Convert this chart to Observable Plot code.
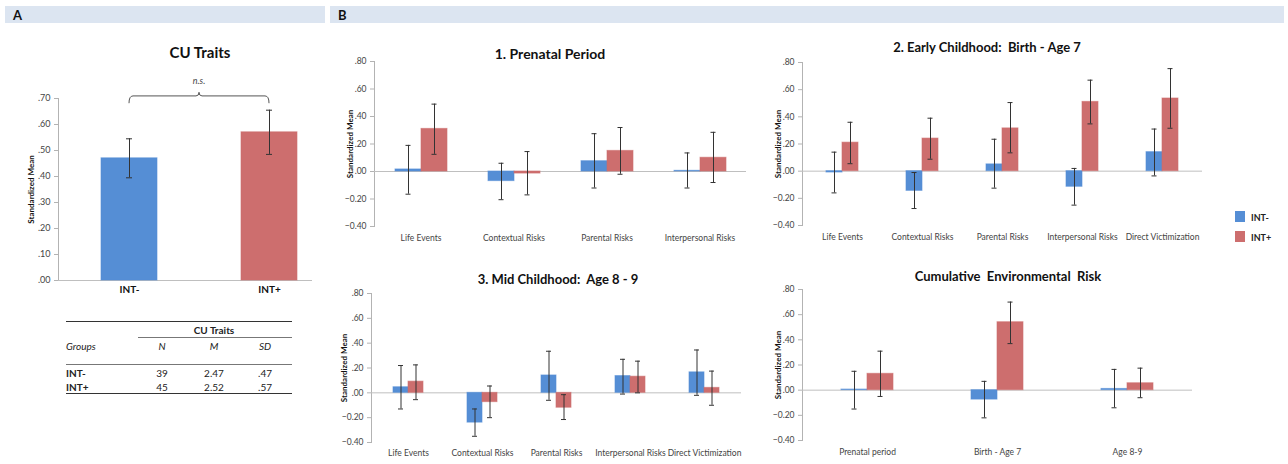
<!DOCTYPE html>
<html><head><meta charset="utf-8">
<script src="https://cdn.jsdelivr.net/npm/d3@7"></script>
<script src="https://cdn.jsdelivr.net/npm/@observablehq/plot@0.6"></script>
<style>
body{margin:0;background:#fff;font-family:Lato,sans-serif;}
#root{position:relative;width:1288px;height:464px;overflow:hidden;background:#fff;}
.abs{position:absolute;}
.strip{position:absolute;background:#dce5f1;height:17px;top:6px;}
.strip span{position:absolute;left:8px;top:1px;font-weight:bold;font-size:13px;color:#111;}
.title{position:absolute;font-weight:bold;color:#111;white-space:pre;transform:translate(-50%,-50%);line-height:1;}
.t{position:absolute;font-size:10px;color:#222;line-height:1;transform:translate(0,-50%);white-space:pre;}
.c{transform:translate(-50%,-50%);}
.hl{position:absolute;height:0;}
svg [aria-label="y-axis"] > text, svg [aria-label="y-axis label"] text {font-weight:bold;font-size:8px;fill:#111;}
</style></head>
<body><div id="root"></div>
<script>
// ---------- data ----------
const groups = ["INT-", "INT+"];
const colors = ["#558ed5", "#cd6e6e"];

// Panel A: CU traits
const cuMean = [0.47, 0.57];
const cuLow  = [0.395, 0.485];
const cuHigh = [0.545, 0.655];
const cuTicks = [0, 0.1, 0.2, 0.3, 0.4, 0.5, 0.6, 0.7];
const tableN  = ["39", "45"];
const tableM  = ["2.47", "2.52"];
const tableSD = [".47", ".57"];

const bTicks = [-0.4, -0.2, 0, 0.2, 0.4, 0.6, 0.8];

// B1 Prenatal period
const p1Cats = ["Life Events", "Contextual Risks", "Parental Risks", "Interpersonal Risks"];
const p1Neg = [0.015, -0.07, 0.075, 0.005];
const p1NegLo = [-0.165, -0.205, -0.12, -0.12];
const p1NegHi = [0.19, 0.06, 0.275, 0.135];
const p1Pos = [0.31, -0.015, 0.15, 0.10];
const p1PosLo = [0.125, -0.17, -0.02, -0.08];
const p1PosHi = [0.49, 0.145, 0.32, 0.285];

// B2 Early childhood
const p2Cats = ["Life Events", "Contextual Risks", "Parental Risks", "Interpersonal Risks", "Direct Victimization"];
const p2Neg = [-0.01, -0.145, 0.05, -0.115, 0.14];
const p2NegLo = [-0.16, -0.275, -0.125, -0.25, -0.035];
const p2NegHi = [0.14, -0.01, 0.235, 0.02, 0.31];
const p2Pos = [0.21, 0.24, 0.315, 0.51, 0.535];
const p2PosLo = [0.055, 0.088, 0.135, 0.348, 0.316];
const p2PosHi = [0.36, 0.39, 0.505, 0.67, 0.755];

// B3 Mid childhood
const p3Cats = ["Life Events", "Contextual Risks", "Parental Risks", "Interpersonal Risks", "Direct Victimization"];
const p3Neg = [0.045, -0.24, 0.14, 0.135, 0.165];
const p3NegLo = [-0.13, -0.35, -0.06, -0.01, -0.02];
const p3NegHi = [0.22, -0.13, 0.335, 0.27, 0.345];
const p3Pos = [0.09, -0.075, -0.12, 0.13, 0.04];
const p3PosLo = [-0.055, -0.20, -0.215, 0.0, -0.10];
const p3PosHi = [0.225, 0.055, -0.015, 0.255, 0.175];

// B4 Cumulative
const p4Cats = ["Prenatal period", "Birth - Age 7", "Age 8-9"];
const p4Neg = [0.005, -0.075, 0.01];
const p4NegLo = [-0.15, -0.22, -0.14];
const p4NegHi = [0.15, 0.07, 0.165];
const p4Pos = [0.13, 0.54, 0.055];
const p4PosLo = [-0.05, 0.37, -0.06];
const p4PosHi = [0.31, 0.70, 0.175];

// ---------- helpers ----------
const root = document.getElementById("root");
const fmt = d => d3.format(".2f")(d).replace(/^(-?)0\./, "$1.");
function el(cls, css, html) {
  const e = document.createElement("div");
  e.className = cls; Object.assign(e.style, css); if (html != null) e.innerHTML = html;
  root.appendChild(e); return e;
}
function place(node, left, top) {
  node.style.position = "absolute"; node.style.left = left + "px"; node.style.top = top + "px";
  root.appendChild(node);
}
function rowsOf(cats, neg, negLo, negHi, pos, posLo, posHi) {
  const r = [];
  cats.forEach((c, i) => {
    r.push({category: c, group: groups[0], value: neg[i], lo: negLo[i], hi: negHi[i]});
    r.push({category: c, group: groups[1], value: pos[i], lo: posLo[i], hi: posHi[i]});
  });
  return r;
}
function yAxis(ticks, offset) {
  return [
    Plot.axisY({ticks, tickFormat: fmt, tickSize: 4, tickPadding: 4,
      stroke: "#b3b3b3", fill: "#444",
      label: "Standardized Mean", labelAnchor: "center", labelOffset: offset, labelArrow: "none"}),
    Plot.frame({anchor: "left", stroke: "#b3b3b3", facetAnchor: "left"})
  ];
}

// ---------- header strips ----------
el("strip", {left: "5px", width: "320px"}, "<span>A</span>");
el("strip", {left: "330px", width: "954px"}, "<span>B</span>");

// ---------- Panel A ----------
const aRows = groups.map((g, i) => ({group: g, value: cuMean[i], lo: cuLow[i], hi: cuHigh[i]}));
const chartA = Plot.plot({
  width: 330, height: 250,
  marginLeft: 58, marginRight: 18, marginTop: 38, marginBottom: 30,
  style: {fontFamily: "Lato, sans-serif", fontSize: "9px", color: "#444", background: "transparent", overflow: "visible"},
  x: {domain: groups, paddingInner: 0.6, paddingOuter: 0.207, align: 0.741, axis: null},
  y: {domain: [0, 0.7]},
  color: {domain: groups, range: colors},
  marks: [
    yAxis(cuTicks, 30),
    Plot.ruleY([0], {stroke: "#bfbfbf"}),
    Plot.barY(aRows, {x: "group", y: "value", fill: "group", stroke: "group", strokeOpacity: 0.6}),
    Plot.ruleX(aRows, {x: "group", y1: "lo", y2: "hi", stroke: "#333", strokeWidth: 1}),
    Plot.tickY(aRows, {x: "group", y: "lo", stroke: "#333", insetLeft: 25, insetRight: 25}),
    Plot.tickY(aRows, {x: "group", y: "hi", stroke: "#333", insetLeft: 25, insetRight: 25}),
    Plot.text(groups, {x: d => d, frameAnchor: "bottom", dy: 12, fontWeight: "bold", fontSize: 10, fill: "#111"})
  ]
});
place(chartA, 0, 60);
// n.s. bracket, positioned with the chart's own scales
{
  const xs = chartA.scale("x"), ys = chartA.scale("y");
  const x1 = xs.apply("INT-") + xs.bandwidth / 2, x2 = xs.apply("INT+") + xs.bandwidth / 2;
  const xm = (x1 + x2) / 2, yt = ys.apply(0.708), yl = ys.apply(0.68), ytip = ys.apply(0.722);
  const svg = d3.select(chartA);
  svg.append("path")
    .attr("d", `M${x1},${yl} Q${x1},${yt} ${x1 + 4},${yt} L${xm - 3},${yt} Q${xm},${yt} ${xm},${ytip} Q${xm},${yt} ${xm + 3},${yt} L${x2 - 4},${yt} Q${x2},${yt} ${x2},${yl}`)
    .attr("fill", "none").attr("stroke", "#555").attr("stroke-width", 1);
  svg.append("text").attr("x", xm).attr("y", ys.apply(0.752)).attr("text-anchor", "middle")
    .attr("font-style", "italic").attr("font-size", 9).attr("fill", "#444").text("n.s.");
}
el("title", {left: "200px", top: "52px", fontSize: "15px"}, "CU Traits");

// table
el("hl", {left: "66px", top: "321px", width: "226px", borderTop: "1.5px solid #333"});
el("t c", {left: "214px", top: "330px", fontWeight: "bold"}, "CU Traits");
el("hl", {left: "138px", top: "337px", width: "154px", borderTop: "1px solid #777"});
el("t", {left: "66px", top: "346px", fontStyle: "italic"}, "Groups");
el("t c", {left: "162px", top: "346px", fontStyle: "italic"}, "N");
el("t c", {left: "214px", top: "346px", fontStyle: "italic"}, "M");
el("t c", {left: "265px", top: "346px", fontStyle: "italic"}, "SD");
el("hl", {left: "66px", top: "364px", width: "226px", borderTop: "1px solid #777"});
groups.forEach((g, i) => {
  const y = 373 + i * 14;
  el("t", {left: "66px", top: y + "px", fontWeight: "bold"}, g);
  el("t c", {left: "162px", top: y + "px"}, tableN[i]);
  el("t c", {left: "214px", top: y + "px"}, tableM[i]);
  el("t c", {left: "265px", top: y + "px"}, tableSD[i]);
});
el("hl", {left: "66px", top: "393px", width: "226px", borderTop: "1.5px solid #333"});

// ---------- B panels ----------
function panel(o) {
  const rows = rowsOf(o.cats, ...o.vals);
  const chart = Plot.plot({
    width: o.width, height: o.height,
    marginLeft: o.ml, marginRight: o.mr, marginTop: o.mt, marginBottom: o.mb,
    style: {fontFamily: "Lato, sans-serif", fontSize: "8.5px", color: "#444", background: "transparent", overflow: "visible"},
    facet: {data: rows, x: "category"},
    fx: {domain: o.cats, padding: 0, label: null, axis: "bottom", tickSize: 0, tickPadding: o.tp},
    x: {domain: groups, paddingInner: 0, paddingOuter: o.outer, axis: null},
    y: {domain: [-0.4, 0.8]},
    color: {domain: groups, range: colors},
    marks: [
      yAxis(bTicks, o.lo),
      Plot.ruleY([0], {stroke: "#bfbfbf"}),
      Plot.barY(rows, {x: "group", y: "value", fill: "group", stroke: "group", strokeOpacity: 0.6}),
      Plot.ruleX(rows, {x: "group", y1: "lo", y2: "hi", stroke: "#333"}),
      Plot.tickY(rows, {x: "group", y: "lo", stroke: "#333", insetLeft: o.cap, insetRight: o.cap}),
      Plot.tickY(rows, {x: "group", y: "hi", stroke: "#333", insetLeft: o.cap, insetRight: o.cap})
    ]
  });
  place(chart, o.left, o.top);
  el("title", {left: o.tx + "px", top: o.ty + "px", fontSize: o.fs + "px"}, o.title);
  return chart;
}

panel({title: "1. Prenatal Period", tx: 550, ty: 54, fs: 14,
  cats: p1Cats, vals: [p1Neg, p1NegLo, p1NegHi, p1Pos, p1PosLo, p1PosHi],
  left: 330, top: 40, width: 430, height: 210, ml: 42, mr: 13, mt: 21, mb: 24, tp: 8, outer: 0.736, cap: 10.5, lo: 27});
panel({title: "2. Early Childhood:  Birth - Age 7", tx: 987, ty: 47, fs: 13,
  cats: p2Cats, vals: [p2Neg, p2NegLo, p2NegHi, p2Pos, p2PosLo, p2PosHi],
  left: 760, top: 40, width: 470, height: 210, ml: 42, mr: 28, mt: 22, mb: 25, tp: 8, outer: 1.42, cap: 5.5, lo: 27});
panel({title: "3. Mid Childhood:  Age 8 - 9", tx: 558, ty: 279, fs: 13,
  cats: p3Cats, vals: [p3Neg, p3NegLo, p3NegHi, p3Pos, p3PosLo, p3PosHi],
  left: 330, top: 260, width: 430, height: 204, ml: 40, mr: 18, mt: 33, mb: 22, tp: 7, outer: 1.4, cap: 5, lo: 30});
panel({title: "Cumulative  Environmental  Risk", tx: 1008, ty: 276, fs: 13,
  cats: p4Cats, vals: [p4Neg, p4NegLo, p4NegHi, p4Pos, p4PosLo, p4PosHi],
  left: 760, top: 260, width: 470, height: 204, ml: 41, mr: 37, mt: 29, mb: 24, tp: 8, outer: 1.47, cap: 10.5, lo: 27});

// legend
groups.forEach((g, i) => {
  el("abs", {left: "1235px", top: (211 + i * 20) + "px", width: "10px", height: "11px", background: colors[i]});
  el("t", {left: "1251px", top: (217 + i * 20) + "px", fontWeight: "bold", fontSize: "9px"}, g);
});
</script></body></html>
